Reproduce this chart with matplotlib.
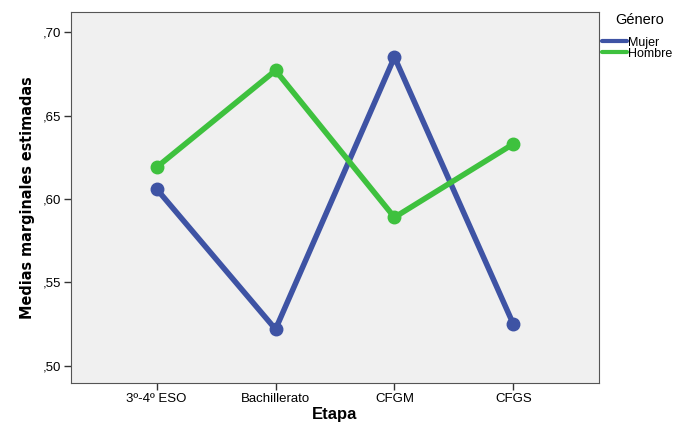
import matplotlib
matplotlib.use('Agg')
from matplotlib import pyplot as plt

etapas = ['3º-4º ESO', 'Bachillerato', 'CFGM', 'CFGS']
mujer = [0.606, 0.522, 0.685, 0.525]
hombre = [0.619, 0.677, 0.589, 0.633]
yticks = [0.50, 0.55, 0.60, 0.65, 0.70]
ytick_labels = [',50', ',55', ',60', ',65', ',70']

fig = plt.figure(figsize=(6.76, 4.22), dpi=100)
ax = fig.add_axes([71 / 676, 39 / 422, 528 / 676, 371 / 422])
ax.set_facecolor('#f0f0f0')

x = list(range(len(etapas)))
ax.plot(x, mujer, color='#3e53a4', linewidth=4, marker='o', markersize=9, label='Mujer', solid_capstyle='round')
ax.plot(x, hombre, color='#3ec13e', linewidth=4, marker='o', markersize=9, label='Hombre', solid_capstyle='round')

ax.set_xlim(-0.72, 3.72)
ax.set_ylim(0.4898, 0.712)
ax.set_xticks(x)
ax.set_xticklabels(etapas, fontsize=9.5, family='Liberation Sans')
ax.set_yticks(yticks)
ax.set_yticklabels(ytick_labels, fontsize=9.5, family='Liberation Sans')
ax.tick_params(length=5, width=1, color='#333333', pad=2)
for s in ax.spines.values():
    s.set_color('#555555')

ax.set_xlabel('Etapa', fontsize=12, fontweight='bold', family='Liberation Sans', labelpad=2)
ax.set_ylabel('Medias marginales estimadas', fontsize=11.5, fontweight='bold',
              family='DejaVu Sans', fontstretch='condensed', labelpad=6)

# legend title drawn separately to get the wider gap above the entries
fig.text(640 / 676, 1 - 20 / 422, 'Género', ha='center', va='center',
         family='Liberation Sans', fontsize=10.5)
leg = ax.legend(loc='upper left', bbox_to_anchor=(1.0, 0.94), frameon=False,
                prop={'family': 'Liberation Sans', 'size': 9},
                handlelength=2.0, handletextpad=0.15, labelspacing=-0.1, borderpad=0.1,
                borderaxespad=0.1)
for line in leg.get_lines():
    line.set_marker('')
    line.set_linewidth(3)

fig.savefig('out.png', dpi=100)
